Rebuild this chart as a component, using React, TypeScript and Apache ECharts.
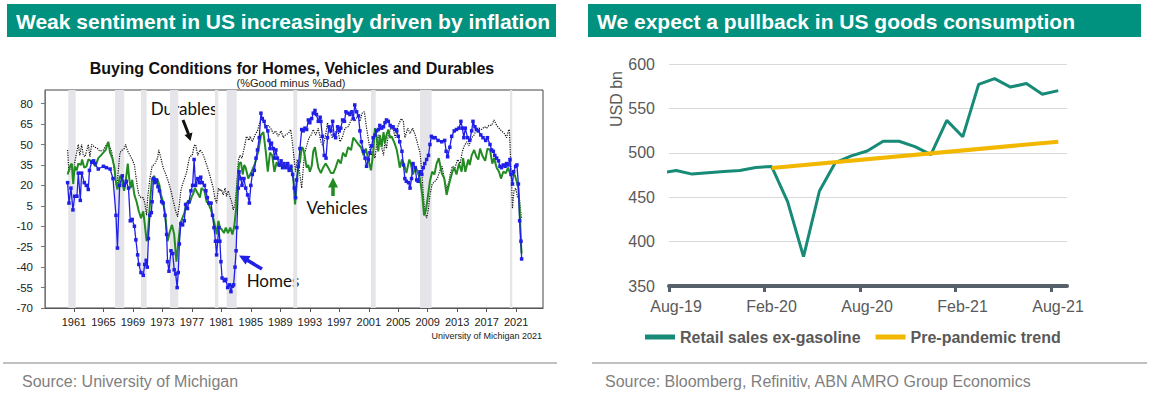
import React, { useEffect, useRef } from 'react';
import * as echarts from 'echarts';

// ---------- Left panel: Buying conditions (%Good minus %Bad) ----------
const homes: [number, number][] = [
  [1960.14,22],[1960.32,7],[1960.59,18],[1960.86,2],[1961.1,12],[1961.4,12],[1961.59,29],[1961.86,9],[1962.04,29],[1962.4,22],[1962.67,20],[1962.94,17],[1963.1,31],[1963.4,37],[1963.67,38],[1963.85,36],[1964.3,32],[1965.0,34],[1965.4,33],[1965.9,32],[1966.3,25],[1966.7,-2],[1966.9,-26],[1967.2,20],[1967.56,27],[1967.83,20],[1968.1,23],[1968.4,18],[1968.64,-6],[1968.9,-5],[1969.2,-10],[1969.4,-20],[1969.64,-31],[1969.8,-38],[1970.09,-44],[1970.4,-46],[1970.6,-38],[1970.8,-35],[1970.95,-40],[1971.1,-19],[1971.3,-2],[1971.5,0],[1971.6,8],[1971.8,25],[1972.0,22],[1972.2,24],[1972.4,19],[1972.6,16],[1972.9,8],[1973.1,7],[1973.35,-2],[1973.57,-16],[1973.7,-36],[1973.89,-43],[1974.16,-28],[1974.4,-30],[1974.6,-42],[1974.8,-45],[1975.0,-55],[1975.15,-44],[1975.3,-23],[1975.5,-8],[1975.74,-9],[1975.97,-6],[1976.15,6],[1976.4,3],[1976.6,8],[1976.87,16],[1977.1,20],[1977.3,39],[1977.5,20],[1977.8,25],[1978.0,22],[1978.2,26],[1978.4,22],[1978.7,20],[1978.9,16],[1979.1,11],[1979.3,7],[1979.6,7],[1979.8,-2],[1980.0,-11],[1980.2,-21],[1980.35,-31],[1980.5,-21],[1980.67,-11],[1980.8,-21],[1980.94,-36],[1981.1,-48],[1981.4,-50],[1981.6,-49],[1981.85,-55],[1982.1,-53],[1982.3,-58],[1982.5,-54],[1982.66,-53],[1982.85,-40],[1983.0,-28],[1983.1,-11],[1983.3,18],[1983.4,30],[1983.65,25],[1983.8,20],[1984.06,25],[1984.3,18],[1984.56,13],[1984.8,7],[1985.0,20],[1985.2,28],[1985.47,31],[1985.7,40],[1985.9,46],[1986.14,55],[1986.37,73],[1986.55,69],[1986.8,67],[1987.05,63],[1987.3,60],[1987.46,53],[1987.6,47],[1987.8,51],[1988.05,47],[1988.2,40],[1988.4,46],[1988.6,40],[1988.86,35],[1989.1,38],[1989.3,33],[1989.5,36],[1989.76,33],[1990.0,36],[1990.2,31],[1990.44,34],[1990.67,28],[1990.9,18],[1991.07,11],[1991.2,24],[1991.44,34],[1991.66,47],[1991.9,61],[1992.1,60],[1992.34,62],[1992.57,61],[1992.8,68],[1993.0,66],[1993.25,69],[1993.47,73],[1993.7,75],[1993.9,72],[1994.15,67],[1994.4,70],[1994.5,67],[1994.7,56],[1994.96,42],[1995.2,40],[1995.4,55],[1995.6,63],[1995.87,60],[1996.1,67],[1996.3,57],[1996.5,55],[1996.77,63],[1997.0,60],[1997.2,62],[1997.45,68],[1997.7,67],[1997.9,74],[1998.2,73],[1998.45,72],[1998.7,74],[1998.9,69],[1999.1,79],[1999.35,74],[1999.6,71],[1999.8,60],[2000.0,52],[2000.3,45],[2000.5,40],[2000.7,34],[2000.94,39],[2001.16,44],[2001.4,49],[2001.6,55],[2001.84,57],[2002.07,60],[2002.3,61],[2002.5,64],[2002.75,62],[2003.0,63],[2003.2,66],[2003.4,68],[2003.65,67],[2003.9,64],[2004.1,63],[2004.3,63],[2004.55,61],[2004.8,60],[2005.0,56],[2005.2,52],[2005.5,45],[2005.7,35],[2005.9,25],[2006.1,23],[2006.4,22],[2006.6,18],[2006.8,25],[2007.0,36],[2007.3,33],[2007.5,24],[2007.7,23],[2007.95,30],[2008.2,28],[2008.4,33],[2008.6,36],[2008.85,39],[2009.1,42],[2009.3,50],[2009.5,56],[2009.75,55],[2010.0,55],[2010.4,53],[2010.9,52],[2011.3,53],[2011.5,45],[2011.7,41],[2012.0,48],[2012.25,56],[2012.6,60],[2012.9,61],[2013.24,62],[2013.5,67],[2013.7,62],[2013.9,55],[2014.1,62],[2014.4,55],[2014.7,53],[2014.96,60],[2015.14,67],[2015.4,63],[2015.6,61],[2015.86,60],[2016.2,57],[2016.5,55],[2016.86,53],[2017.1,55],[2017.45,50],[2017.67,46],[2017.9,45],[2018.1,42],[2018.35,40],[2018.6,38],[2018.8,34],[2019.0,33],[2019.25,35],[2019.5,34],[2019.7,36],[2019.9,35],[2020.16,39],[2020.3,28],[2020.5,21],[2020.66,30],[2020.93,34],[2021.1,35],[2021.3,21],[2021.47,-6],[2021.65,-21],[2021.74,-34]
];

const vehicles: [number, number][] = [
  [1960.14,28],[1960.46,34],[1960.7,36],[1960.9,21],[1961.1,34],[1961.36,31],[1961.6,36],[1961.95,35],[1962.1,39],[1962.4,33],[1962.7,34],[1962.95,39],[1963.3,38],[1963.6,38],[1963.9,34],[1964.3,40],[1964.66,42],[1964.98,44],[1965.3,46],[1965.66,52],[1965.9,44],[1966.2,40],[1966.5,33],[1966.65,24],[1966.9,17],[1967.24,27],[1967.47,25],[1967.8,16],[1968.0,22],[1968.3,36],[1968.5,25],[1968.7,18],[1968.9,24],[1969.2,13],[1969.5,8],[1969.8,1],[1970.1,-4],[1970.4,1],[1970.6,-8],[1970.86,-21],[1971.0,-18],[1971.2,-2],[1971.4,13],[1971.6,25],[1971.9,27],[1972.1,22],[1972.35,24],[1972.6,20],[1972.8,13],[1973.1,8],[1973.4,-2],[1973.7,-21],[1974.0,-14],[1974.3,-9],[1974.6,-16],[1974.9,-36],[1975.15,-23],[1975.4,-9],[1975.7,-4],[1976.0,0],[1976.2,6],[1976.4,8],[1976.7,7],[1977.0,12],[1977.2,14],[1977.4,18],[1977.8,14],[1978.1,11],[1978.3,18],[1978.7,16],[1979.0,8],[1979.2,7],[1979.6,2],[1979.9,-4],[1980.1,-9],[1980.35,-16],[1980.6,-6],[1980.8,-11],[1981.0,-12],[1981.35,-15],[1981.6,-11],[1981.9,-15],[1982.2,-11],[1982.5,-16],[1982.75,-10],[1983.0,3],[1983.2,23],[1983.4,36],[1983.65,37],[1983.9,28],[1984.1,35],[1984.3,33],[1984.65,25],[1985.1,30],[1985.56,36],[1986.0,45],[1986.37,57],[1986.7,59],[1987.0,46],[1987.3,30],[1987.6,44],[1987.9,42],[1988.2,30],[1988.5,37],[1988.8,34],[1989.2,35],[1989.5,33],[1989.85,35],[1990.2,31],[1990.5,34],[1990.76,25],[1991.0,6],[1991.2,20],[1991.44,34],[1991.66,37],[1991.9,48],[1992.1,47],[1992.3,42],[1992.57,33],[1992.8,35],[1993.0,30],[1993.25,34],[1993.47,45],[1993.7,48],[1993.9,41],[1994.15,33],[1994.5,29],[1994.8,33],[1995.15,36],[1995.5,33],[1995.87,29],[1996.2,29],[1996.5,33],[1996.86,39],[1997.2,36],[1997.5,44],[1997.86,41],[1998.2,48],[1998.6,46],[1998.9,55],[1999.2,53],[1999.6,50],[1999.94,48],[2000.3,42],[2000.6,47],[2000.94,39],[2001.3,31],[2001.6,44],[2001.84,62],[2002.07,55],[2002.3,45],[2002.5,57],[2002.75,48],[2003.0,59],[2003.2,51],[2003.4,57],[2003.65,61],[2003.9,55],[2004.1,56],[2004.5,51],[2004.8,46],[2005.0,40],[2005.2,33],[2005.5,39],[2005.8,35],[2006.1,29],[2006.5,39],[2006.7,36],[2007.0,28],[2007.36,34],[2007.6,30],[2007.95,25],[2008.26,13],[2008.5,-2],[2008.76,2],[2009.0,11],[2009.3,23],[2009.6,30],[2009.9,28],[2010.2,36],[2010.5,40],[2010.9,29],[2011.25,25],[2011.56,13],[2011.9,21],[2012.34,30],[2012.6,33],[2012.9,28],[2013.24,36],[2013.6,30],[2013.8,40],[2014.1,30],[2014.5,39],[2014.7,35],[2014.96,42],[2015.3,46],[2015.6,41],[2015.86,39],[2016.1,47],[2016.4,42],[2016.8,38],[2017.1,47],[2017.45,46],[2017.76,36],[2018.0,40],[2018.35,33],[2018.67,30],[2018.94,25],[2019.25,30],[2019.6,29],[2019.9,33],[2020.16,29],[2020.4,28],[2020.6,30],[2020.84,27],[2021.06,23],[2021.3,18],[2021.5,-2],[2021.65,-23],[2021.74,-30]
];

const durables: [number, number][] = [
  [1960.14,46],[1960.3,30],[1960.7,35],[1961.04,35],[1961.36,44],[1961.59,50],[1961.8,42],[1962.04,50],[1962.27,42],[1962.5,41],[1962.95,50],[1963.17,41],[1963.4,50],[1963.85,48],[1964.2,47],[1964.5,45],[1964.98,46],[1965.4,50],[1965.66,51],[1966.1,45],[1966.3,39],[1966.56,27],[1966.8,18],[1967.0,30],[1967.24,44],[1967.56,46],[1967.83,47],[1968.0,50],[1968.3,45],[1968.6,42],[1968.9,39],[1969.2,35],[1969.37,28],[1969.64,18],[1969.8,13],[1970.09,11],[1970.4,11],[1970.6,7],[1970.86,-2],[1971.0,11],[1971.3,25],[1971.6,34],[1971.99,36],[1972.35,40],[1972.5,46],[1972.8,40],[1973.1,33],[1973.4,29],[1973.8,23],[1974.16,16],[1974.5,8],[1974.8,1],[1975.06,-3],[1975.3,6],[1975.5,16],[1975.74,21],[1976.0,25],[1976.3,30],[1976.5,36],[1976.7,41],[1977.05,42],[1977.3,49],[1977.5,50],[1977.8,42],[1978.1,46],[1978.4,44],[1978.7,40],[1979.0,35],[1979.3,30],[1979.6,24],[1979.9,18],[1980.1,11],[1980.35,7],[1980.6,18],[1980.8,16],[1981.0,17],[1981.26,13],[1981.5,18],[1981.7,12],[1981.94,16],[1982.2,11],[1982.4,8],[1982.6,2],[1982.85,6],[1983.1,21],[1983.3,38],[1983.5,42],[1983.8,40],[1984.2,50],[1984.4,56],[1984.74,53],[1984.9,56],[1985.2,52],[1985.56,57],[1985.9,60],[1986.2,66],[1986.46,69],[1986.7,67],[1987.0,62],[1987.37,64],[1987.7,62],[1988.05,58],[1988.36,60],[1988.7,56],[1989.1,60],[1989.4,55],[1989.7,57],[1990.08,58],[1990.4,61],[1990.6,53],[1990.9,38],[1991.07,30],[1991.3,39],[1991.57,31],[1991.9,18],[1992.25,42],[1992.57,49],[1992.9,55],[1993.2,57],[1993.47,61],[1993.8,57],[1994.15,62],[1994.5,52],[1994.8,49],[1995.15,57],[1995.4,66],[1995.7,60],[1996.05,55],[1996.4,58],[1996.77,62],[1997.1,52],[1997.4,55],[1997.77,62],[1998.2,63],[1998.7,69],[1999.1,67],[1999.5,71],[1999.8,67],[2000.1,73],[2000.4,74],[2000.7,62],[2001.0,52],[2001.3,42],[2001.6,45],[2001.84,40],[2002.07,50],[2002.3,57],[2002.7,49],[2003.0,42],[2003.2,53],[2003.4,47],[2003.65,57],[2004.0,62],[2004.33,61],[2004.6,55],[2005.0,64],[2005.4,69],[2005.7,67],[2005.9,55],[2006.3,62],[2006.6,58],[2006.95,62],[2007.3,57],[2007.6,51],[2007.95,44],[2008.2,30],[2008.4,13],[2008.6,1],[2008.85,-4],[2009.1,3],[2009.3,13],[2009.6,21],[2009.98,23],[2010.3,25],[2010.66,31],[2010.95,34],[2011.3,23],[2011.6,18],[2011.9,23],[2012.0,27],[2012.34,34],[2012.7,33],[2013.06,39],[2013.4,36],[2013.7,45],[2013.96,49],[2014.3,52],[2014.6,49],[2014.96,55],[2015.3,57],[2015.6,61],[2015.95,62],[2016.3,61],[2016.7,63],[2017.0,62],[2017.3,64],[2017.67,64],[2018.0,68],[2018.35,64],[2018.67,62],[2019.0,60],[2019.4,58],[2019.7,55],[2019.94,60],[2020.07,61],[2020.2,45],[2020.4,18],[2020.5,3],[2020.7,16],[2020.93,18],[2021.2,11],[2021.4,13],[2021.56,3],[2021.74,-4]
];

const recessions: [number, number][] = [
  [1960.23,1961.23],[1966.56,1967.82],[1970.09,1970.86],[1974.03,1975.15],[1980.13,1980.58],
  [1981.72,1983.08],[1990.76,1991.3],[2001.3,2001.94],[2007.95,2009.53],[2020.16,2020.47]
];
const yearTicks = [1961,1965,1969,1973,1977,1981,1985,1989,1993,1997,2001,2005,2009,2013,2017,2021];
const buyingTicks = [-70,-55,-40,-25,-10,5,20,35,50,65,80];

// ---------- Right panel: US retail sales ex-gasoline (USD bn) ----------
const retailMonths = ['2019-07','2019-08','2019-09','2019-10','2019-11','2019-12','2020-01','2020-02','2020-03','2020-04','2020-05','2020-06','2020-07','2020-08','2020-09','2020-10','2020-11','2020-12','2021-01','2021-02','2021-03','2021-04','2021-05','2021-06','2021-07','2021-08'];
const retailSales = [477,480,476,477.5,479,480,483.5,484.5,445,383,457,489,496.5,502,513,513,507,498,536.5,518,577,583.5,574,578,566,570];
const trendMonths = ['2020-02','2021-08'];
const trendValues = [483,512.5];
const retailTickLabels = ['Aug-19','Feb-20','Aug-20','Feb-21','Aug-21'];
const retailTickPos = [0,6,12,18,24];

const monthPos = (s: string) => {
  const [y, m] = s.split('-').map(Number);
  return (y - 2019) * 12 + (m - 8) + 0.45;
};

const TEAL = '#00917f';
const FONT = '"Liberation Sans", Arial, sans-serif';
const NOTE = { fontFamily: 'Lato, "Open Sans", sans-serif', fontSize: 17, fill: '#111', textAlign: 'center', textVerticalAlign: 'middle' };

export default function App() {
  const ref = useRef<HTMLDivElement>(null);
  useEffect(() => {
    document.body.style.margin = '0';
    const chart = echarts.init(ref.current!, null, { renderer: 'svg' });
    const option: any = {
      animation: false,
      backgroundColor: '#fff',
      textStyle: { fontFamily: FONT },
      grid: [
        { left: 45, top: 90, width: 498, height: 218, show: true, borderColor: '#444', borderWidth: 1, backgroundColor: 'transparent' },
        { left: 669, top: 64, width: 398, height: 222 }
      ],
      xAxis: [
        {
          type: 'value', gridIndex: 0, min: 1957.07, max: 2024.64,
          axisLine: { show: true, onZero: false, lineStyle: { color: '#555' } },
          axisTick: { show: true, length: 4, customValues: yearTicks, lineStyle: { color: '#555' } },
          axisLabel: { customValues: yearTicks, formatter: (v: number) => String(v), fontSize: 11, color: '#222', margin: 8 },
          splitLine: { show: false }
        },
        {
          type: 'value', gridIndex: 1, min: 0, max: 25,
          axisLine: { show: true, onZero: false, lineStyle: { color: '#56606a', width: 4 } },
          axisTick: { show: true, length: 6, customValues: retailTickPos, lineStyle: { color: '#56606a', width: 3 } },
          axisLabel: {
            customValues: retailTickPos,
            formatter: (v: number) => retailTickLabels[Math.round(v / 6)] ?? '',
            fontSize: 16, color: '#595959', margin: 12, padding: [0, 0, 0, 14]
          },
          splitLine: { show: false }
        }
      ],
      yAxis: [
        {
          type: 'value', gridIndex: 0, min: -70, max: 90,
          axisLine: { show: true, onZero: false, lineStyle: { color: '#777' } },
          axisTick: { show: true, length: 4, customValues: buyingTicks, lineStyle: { color: '#777' } },
          axisLabel: { customValues: buyingTicks, fontSize: 11.5, color: '#222', margin: 12 },
          splitLine: { show: false }
        },
        {
          type: 'value', gridIndex: 1, min: 350, max: 600, interval: 50,
          axisLine: { show: false }, axisTick: { show: false },
          axisLabel: { fontSize: 16, color: '#595959', margin: 14 },
          splitLine: { show: true, lineStyle: { color: '#d9d9d9', width: 1 } }
        }
      ],
      legend: {
        data: ['Retail sales ex-gasoline', 'Pre-pandemic trend'],
        left: 640, top: 324, icon: 'rect', itemWidth: 30, itemHeight: 5, itemGap: 15,
        textStyle: { fontWeight: 'bold', fontSize: 16, color: '#595959', fontFamily: FONT }
      },
      series: [
        {
          type: 'line', name: 'Durables', xAxisIndex: 0, yAxisIndex: 0, data: durables,
          symbol: 'none', z: 2,
          lineStyle: { color: '#111', width: 1.2, type: 'dotted' }, itemStyle: { color: '#111' },
          markArea: {
            silent: true, itemStyle: { color: '#e4e4e9' },
            data: recessions.map(([a, b]) => [{ xAxis: a }, { xAxis: b }])
          }
        },
        {
          type: 'line', name: 'Vehicles', xAxisIndex: 0, yAxisIndex: 0, data: vehicles,
          symbol: 'none', z: 3, lineStyle: { color: '#228b22', width: 2 }, itemStyle: { color: '#228b22' }
        },
        {
          type: 'line', name: 'Homes', xAxisIndex: 0, yAxisIndex: 0, data: homes,
          symbol: 'rect', symbolSize: 3.5, z: 4,
          lineStyle: { color: '#1f1fe8', width: 1.3 }, itemStyle: { color: '#1f1fe8' }
        },
        {
          type: 'line', name: 'Retail sales ex-gasoline', xAxisIndex: 1, yAxisIndex: 1,
          data: retailMonths.map((m, i) => [monthPos(m), retailSales[i]]),
          symbol: 'none', clip: true, z: 3,
          lineStyle: { color: '#178a78', width: 3 }, itemStyle: { color: '#178a78' }
        },
        {
          type: 'line', name: 'Pre-pandemic trend', xAxisIndex: 1, yAxisIndex: 1,
          data: trendMonths.map((m, i) => [monthPos(m), trendValues[i]]),
          symbol: 'none', z: 4,
          lineStyle: { color: '#f2b800', width: 4 }, itemStyle: { color: '#f2b800' }
        }
      ],
      graphic: [
        { type: 'rect', shape: { x: 7, y: 4, width: 549, height: 33 }, style: { fill: TEAL } },
        { type: 'text', x: 16, y: 21, style: { text: 'Weak sentiment in US increasingly driven by inflation', fill: '#fff', font: `bold 21px ${FONT}`, textVerticalAlign: 'middle' } },
        { type: 'rect', shape: { x: 588, y: 4, width: 553, height: 33 }, style: { fill: TEAL } },
        { type: 'text', x: 597, y: 21, style: { text: 'We expect a pullback in US goods consumption', fill: '#fff', font: `bold 21px ${FONT}`, textVerticalAlign: 'middle' } },

        { type: 'text', x: 292, y: 68, style: { text: 'Buying Conditions for Homes, Vehicles and Durables', fill: '#111', font: `bold 16px ${FONT}`, textAlign: 'center', textVerticalAlign: 'middle' } },
        { type: 'text', x: 291, y: 83, style: { text: '(%Good minus %Bad)', fill: '#222', font: `11px ${FONT}`, textAlign: 'center', textVerticalAlign: 'middle' } },
        { type: 'text', x: 542, y: 336, style: { text: 'University of Michigan 2021', fill: '#222', font: `9px ${FONT}`, textAlign: 'right', textVerticalAlign: 'middle' } },

        { type: 'text', x: 184, y: 108, style: { ...NOTE, text: 'Durables' } },
        { type: 'line', shape: { x1: 183, y1: 120, x2: 188.5, y2: 134 }, style: { stroke: '#111', lineWidth: 3 } },
        { type: 'polygon', shape: { points: [[190.5, 141], [192.5, 132.5], [184.5, 135]] }, style: { fill: '#111' } },

        { type: 'text', x: 273, y: 280, style: { ...NOTE, text: 'Homes' } },
        { type: 'line', shape: { x1: 262, y1: 269, x2: 247, y2: 260 }, style: { stroke: '#1f1fe8', lineWidth: 3.5 } },
        { type: 'polygon', shape: { points: [[239, 255.5], [250.5, 256], [245.5, 264.5]] }, style: { fill: '#1f1fe8' } },

        { type: 'text', x: 337, y: 207, style: { ...NOTE, text: 'Vehicles' } },
        { type: 'line', shape: { x1: 333, y1: 196, x2: 333, y2: 186 }, style: { stroke: '#228b22', lineWidth: 3.5 } },
        { type: 'polygon', shape: { points: [[333, 177.5], [328, 187.5], [338, 187.5]] }, style: { fill: '#228b22' } },

        { type: 'text', x: 616.5, y: 99, rotation: Math.PI / 2, style: { text: 'USD bn', fill: '#595959', font: `16px ${FONT}`, textAlign: 'center', textVerticalAlign: 'middle' } },

        { type: 'line', shape: { x1: 3, y1: 363, x2: 557, y2: 363 }, style: { stroke: '#c0c0c0', lineWidth: 2 } },
        { type: 'line', shape: { x1: 592, y1: 363, x2: 1147, y2: 363 }, style: { stroke: '#c0c0c0', lineWidth: 2 } },
        { type: 'text', x: 22, y: 381, style: { text: 'Source: University of Michigan', fill: '#7f7f7f', font: `16px ${FONT}`, textVerticalAlign: 'middle' } },
        { type: 'text', x: 605, y: 381, style: { text: 'Source: Bloomberg, Refinitiv, ABN AMRO Group Economics', fill: '#7f7f7f', font: `16px ${FONT}`, textVerticalAlign: 'middle' } }
      ]
    };
    chart.setOption(option);
    return () => chart.dispose();
  }, []);
  return <div ref={ref} style={{ width: 1149, height: 398, background: '#fff' }} />;
}
